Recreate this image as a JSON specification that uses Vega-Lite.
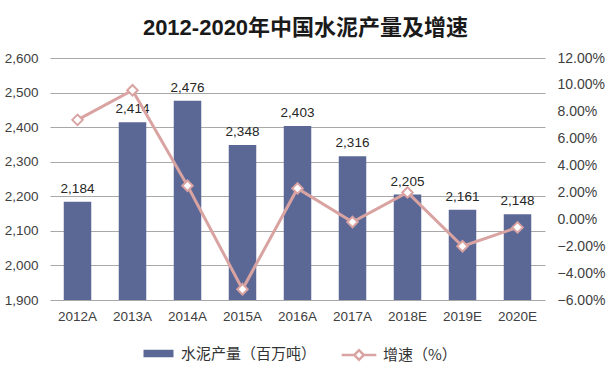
{
  "$schema": "https://vega.github.io/schema/vega-lite/v6.json",
  "width": 495,
  "height": 242,
  "autosize": {"type": "none"},
  "padding": {"left": 50, "top": 58, "right": 67, "bottom": 86},
  "background": "white",
  "config": {
    "font": "Liberation Sans, Noto Sans CJK SC",
    "view": {"stroke": null}
  },
  "title": {
    "text": "2012-2020年中国水泥产量及增速",
    "font": "Liberation Sans, Noto Sans CJK SC",
    "fontSize": 22,
    "fontWeight": "bold",
    "color": "#1a1a1a",
    "anchor": "middle",
    "dx": 8,
    "offset": 11
  },
  "data": {
    "values": [
      {"year": "2012A", "output": 2184, "growth": 0.074},
      {"year": "2013A", "output": 2414, "growth": 0.096},
      {"year": "2014A", "output": 2476, "growth": 0.025},
      {"year": "2015A", "output": 2348, "growth": -0.052},
      {"year": "2016A", "output": 2403, "growth": 0.023},
      {"year": "2017A", "output": 2316, "growth": -0.002},
      {"year": "2018E", "output": 2205, "growth": 0.020},
      {"year": "2019E", "output": 2161, "growth": -0.020},
      {"year": "2020E", "output": 2148, "growth": -0.006}
    ]
  },
  "encoding": {
    "x": {
      "field": "year",
      "type": "nominal",
      "sort": null,
      "scale": {"paddingInner": 0.5, "paddingOuter": 0.25},
      "axis": {
        "title": null,
        "labelAngle": 0,
        "labelFontSize": 13.5,
        "labelColor": "#404040",
        "labelPadding": 9,
        "ticks": false,
        "domain": false
      }
    }
  },
  "layer": [
    {
      "encoding": {
        "y": {
          "field": "output",
          "type": "quantitative",
          "scale": {"domain": [1900, 2600], "zero": false, "nice": false},
          "axis": {
            "title": null,
            "values": [1900, 2000, 2100, 2200, 2300, 2400, 2500, 2600],
            "format": ",.0f",
            "labelFontSize": 13.5,
            "labelColor": "#404040",
            "labelPadding": 12,
            "ticks": false,
            "domain": false,
            "grid": true,
            "gridColor": "#a8a8a8",
            "gridWidth": 1
          }
        }
      },
      "layer": [
        {
          "mark": {"type": "bar", "clip": true},
          "encoding": {
            "y2": {"datum": 1900},
            "color": {
              "datum": "水泥产量（百万吨）",
              "scale": {"range": ["#5b6896"]},
              "legend": {
                "title": null,
                "orient": "none",
                "legendX": 100,
                "legendY": 287,
                "padding": 0,
                "symbolType": "M-2,-0.5H2V0.5H-2Z",
                "symbolSize": 225,
                "labelOffset": 14,
                "labelFontSize": 15,
                "labelColor": "#333333",
                "labelFont": "Noto Sans CJK SC"
              }
            }
          }
        },
        {
          "mark": {"type": "text", "baseline": "middle", "dy": -13, "fontSize": 13.5, "color": "#262626"},
          "encoding": {
            "text": {"field": "output", "type": "quantitative", "format": ",.0f"}
          }
        }
      ]
    },
    {
      "encoding": {
        "y": {
          "field": "growth",
          "type": "quantitative",
          "scale": {"domain": [-0.06, 0.12], "nice": false, "zero": false},
          "axis": {
            "orient": "right",
            "title": null,
            "values": [-0.06, -0.04, -0.02, 0, 0.02, 0.04, 0.06, 0.08, 0.10, 0.12],
            "format": ".2%",
            "labelFontSize": 14,
            "labelColor": "#404040",
            "labelPadding": 12,
            "ticks": false,
            "domain": false,
            "grid": false
          }
        }
      },
      "layer": [
        {
          "mark": {"type": "line", "strokeWidth": 3},
          "encoding": {
            "stroke": {
              "datum": "增速（%）",
              "scale": {"range": ["#d9a3a2"]},
              "legend": {
                "title": null,
                "orient": "none",
                "legendX": 299,
                "legendY": 287,
                "padding": 0,
                "symbolType": "M-2,0H-0.55M0.55,0H2M0,-0.55L0.55,0L0,0.55L-0.55,0Z",
                "symbolSize": 300,
                "symbolStrokeWidth": 2.5,
                "symbolFillColor": "white",
                "labelOffset": 14,
                "labelFontSize": 15,
                "labelColor": "#333333",
                "labelFont": "Noto Sans CJK SC"
              }
            }
          }
        },
        {
          "mark": {"type": "point", "shape": "diamond", "filled": true, "fill": "white", "stroke": "#d9a3a2", "strokeWidth": 2, "size": 110, "opacity": 1}
        }
      ]
    }
  ],
  "resolve": {"scale": {"y": "independent"}}
}
